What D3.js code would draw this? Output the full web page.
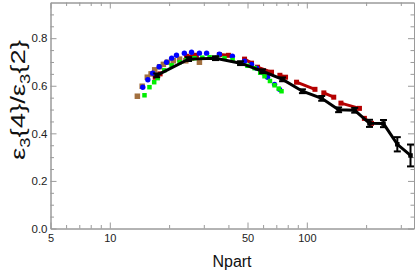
<!DOCTYPE html>
<html>
<head>
<meta charset="utf-8">
<script src="https://cdn.jsdelivr.net/npm/d3@7"></script>
<style>
  body { margin: 0; background: #fff; }
  text { font-family: "Liberation Sans", Arial, sans-serif; }
</style>
</head>
<body>
<div id="chart"></div>
<script>
  let width = 415;
  let height = 272;
  let margin = {top: 2.5, right: 1, bottom: 43.5, left: 50.5};

  // black curve with error bars
  let blackX = [17.3, 25.1, 34.4, 46.1, 59.6, 75.3, 95, 119, 145, 175, 208, 245, 288, 336];
  let blackY = [0.644, 0.712, 0.716, 0.695, 0.661, 0.627, 0.577, 0.547, 0.499, 0.497, 0.442, 0.441, 0.354, 0.307];
  let blackErr = [0.008, 0.008, 0.008, 0.008, 0.008, 0.008, 0.008, 0.01, 0.01, 0.01, 0.015, 0.015, 0.03, 0.046];

  let blueX = [14.7, 15.6, 16.5, 17.8, 19.4, 20.6, 21.8, 23.9, 26.0, 28.5, 31.0, 36.0, 41.9, 48.3, 52.4, 55.6, 60.0, 63.2, 68.6, 72.7];
  let blueY = [0.594, 0.625, 0.653, 0.680, 0.699, 0.716, 0.728, 0.737, 0.741, 0.737, 0.737, 0.733, 0.724, 0.703, 0.690, 0.674, 0.655, 0.636, 0.606, 0.585];

  let greenX = [15.0, 15.9, 16.8, 17.5, 18.9, 20.6, 22.6, 24.5, 26.9, 29.5, 32.1, 35.0, 38.2, 42.0, 45.5, 50.0, 54.3, 58.0, 61.0, 65.0, 68.6, 72.0, 74.4];
  let greenY = [0.560, 0.594, 0.615, 0.632, 0.665, 0.686, 0.699, 0.710, 0.716, 0.718, 0.720, 0.718, 0.716, 0.708, 0.695, 0.684, 0.674, 0.655, 0.640, 0.620, 0.602, 0.588, 0.577];

  let brownX = [13.8, 14.6, 15.5, 16.2, 16.9, 17.9, 18.7, 19.6, 21.0, 22.6, 24.3, 26.0, 28.5];
  let brownY = [0.556, 0.598, 0.636, 0.650, 0.667, 0.680, 0.690, 0.699, 0.705, 0.712, 0.705, 0.716, 0.699];

  // red markers, joined two by two
  let redX = [17.0, 18.0, 24.5, 27.5, 36.0, 40.0, 48.3, 52.4, 56.2, 66.2, 73.0, 78.0, 88.7, 110, 122, 137, 149, 185, 196, 213];
  let redY = [0.636, 0.650, 0.724, 0.728, 0.731, 0.728, 0.712, 0.695, 0.678, 0.657, 0.644, 0.636, 0.615, 0.585, 0.570, 0.552, 0.527, 0.505, 0.463, 0.442];

  let xTicks = [5, 10, 50, 100];
  let xMinor = [6, 7, 8, 9, 20, 30, 40, 60, 70, 80, 90, 200, 300];
  let yTicks = [0, 0.2, 0.4, 0.6, 0.8];
  let yMinor = [0.05, 0.1, 0.15, 0.25, 0.3, 0.35, 0.45, 0.5, 0.55, 0.65, 0.7, 0.75, 0.85, 0.9];

  let zip = (xs, ys) => xs.map((x, i) => ({x: x, y: ys[i]}));

  let svg = d3.select('#chart')
  .append('svg')
  .attr('width', width)
  .attr('height', height);

  let x = d3.scaleLog().domain([5, 350]).range([margin.left, width - margin.right]);
  let y = d3.scaleLinear().domain([0, 0.95]).range([height - margin.bottom, margin.top]);

  let frameColor = '#9a9a9a';
  let x0 = x.range()[0], x1 = x.range()[1];
  let y0 = y.range()[0], y1 = y.range()[1];

  // frame with inward ticks on all four sides
  function frameAxis(axis, t) {
    let g = svg.append('g').attr('transform', t).call(axis);
    g.select('.domain').attr('stroke', frameColor);
    g.selectAll('.tick line').attr('stroke', frameColor);
    return g;
  }

  let fmtY = d3.format('.1f');
  let gx = frameAxis(d3.axisBottom(x).tickValues(xTicks).tickSize(-6).tickSizeOuter(0).tickFormat(d3.format('d')), `translate(0,${y0})`);
  gx.selectAll('text').attr('font-size', 11).attr('fill', '#222').attr('dy', '0.95em').attr('y', 3);
  frameAxis(d3.axisBottom(x).tickValues(xMinor).tickSize(-3.5).tickSizeOuter(0).tickFormat(''), `translate(0,${y0})`);
  frameAxis(d3.axisTop(x).tickValues(xTicks).tickSize(-6).tickSizeOuter(0).tickFormat(''), `translate(0,${y1})`);
  frameAxis(d3.axisTop(x).tickValues(xMinor).tickSize(-3.5).tickSizeOuter(0).tickFormat(''), `translate(0,${y1})`);

  let gy = frameAxis(d3.axisLeft(y).tickValues(yTicks).tickSize(-6).tickSizeOuter(0).tickFormat(fmtY), `translate(${x0},0)`);
  gy.selectAll('text').attr('font-size', 11.5).attr('fill', '#222').attr('x', -3);
  frameAxis(d3.axisLeft(y).tickValues(yMinor).tickSize(-3.5).tickSizeOuter(0).tickFormat(''), `translate(${x0},0)`);
  frameAxis(d3.axisRight(y).tickValues(yTicks).tickSize(-6).tickSizeOuter(0).tickFormat(''), `translate(${x1},0)`);
  frameAxis(d3.axisRight(y).tickValues(yMinor).tickSize(-3.5).tickSizeOuter(0).tickFormat(''), `translate(${x1},0)`);

  svg.selectAll('.domain').attr('stroke-width', 1);

  //axis labels
  svg.append('text')
  .attr('x', 232)
  .attr('y', 267)
  .attr('text-anchor', 'middle')
  .attr('font-size', 16)
  .attr('fill', '#111')
  .text('Npart');

  let yl = svg.append('text')
  .attr('transform', 'translate(25,100) rotate(-90)')
  .attr('text-anchor', 'middle')
  .attr('font-size', 21)
  .attr('fill', '#111')
  .attr('textLength', 120)
  .attr('lengthAdjust', 'spacingAndGlyphs');
  let labelParts = [['ε', 0, 0], ['3', 1, 5], ['{4}/', 0, -5], ['ε', 0, 0], ['3', 1, 5], ['{2}', 0, -5]];
  labelParts.forEach((p) => {
    yl.append('tspan')
    .attr('font-size', p[1] ? 14 : 21)
    .attr('dy', p[2])
    .text(p[0]);
  });

  let plot = svg.append('g');

  function squares(data, color, s) {
    plot.selectAll(null)
    .data(data)
    .enter().append('rect')
    .attr('x', (d) => x(d.x) - s / 2)
    .attr('y', (d) => y(d.y) - s / 2)
    .attr('width', s)
    .attr('height', s)
    .attr('fill', color);
  }

  // brown
  squares(zip(brownX, brownY), '#a2703f', 5.5);

  // red, pairs joined by a short line
  let red = zip(redX, redY);
  let redPairs = d3.range(0, red.length, 2).map((i) => [red[i], red[i + 1]]);
  plot.selectAll(null)
  .data(redPairs)
  .enter().append('line')
  .attr('x1', (d) => x(d[0].x)).attr('y1', (d) => y(d[0].y))
  .attr('x2', (d) => x(d[1].x)).attr('y2', (d) => y(d[1].y))
  .attr('stroke', '#b40000')
  .attr('stroke-width', 3);
  squares(red, '#b40000', 5);

  // blue circles
  plot.selectAll(null)
  .data(zip(blueX, blueY))
  .enter().append('circle')
  .attr('cx', (d) => x(d.x))
  .attr('cy', (d) => y(d.y))
  .attr('r', 2.7)
  .attr('fill', '#0000ff');

  // green
  squares(zip(greenX, greenY), '#00ee00', 4.5);

  // black line + error bars
  let black = blackX.map((v, i) => ({x: v, y: blackY[i], e: blackErr[i]}));
  plot.append('path')
  .datum(black)
  .attr('fill', 'none')
  .attr('stroke', '#000')
  .attr('stroke-width', 3)
  .attr('d', d3.line().x((d) => x(d.x)).y((d) => y(d.y)));

  let eb = plot.selectAll('.eb')
  .data(black)
  .enter().append('g')
  .attr('class', 'eb');
  eb.append('line')
  .attr('x1', (d) => x(d.x)).attr('x2', (d) => x(d.x))
  .attr('y1', (d) => y(d.y - d.e)).attr('y2', (d) => y(d.y + d.e))
  .attr('stroke', '#000').attr('stroke-width', 2);
  eb.append('line')
  .attr('x1', (d) => x(d.x) - 3.5).attr('x2', (d) => x(d.x) + 3.5)
  .attr('y1', (d) => y(d.y - d.e)).attr('y2', (d) => y(d.y - d.e))
  .attr('stroke', '#000').attr('stroke-width', 2);
  eb.append('line')
  .attr('x1', (d) => x(d.x) - 3.5).attr('x2', (d) => x(d.x) + 3.5)
  .attr('y1', (d) => y(d.y + d.e)).attr('y2', (d) => y(d.y + d.e))
  .attr('stroke', '#000').attr('stroke-width', 2);
  squares(black, '#000', 4.5);
</script>
</body>
</html>
